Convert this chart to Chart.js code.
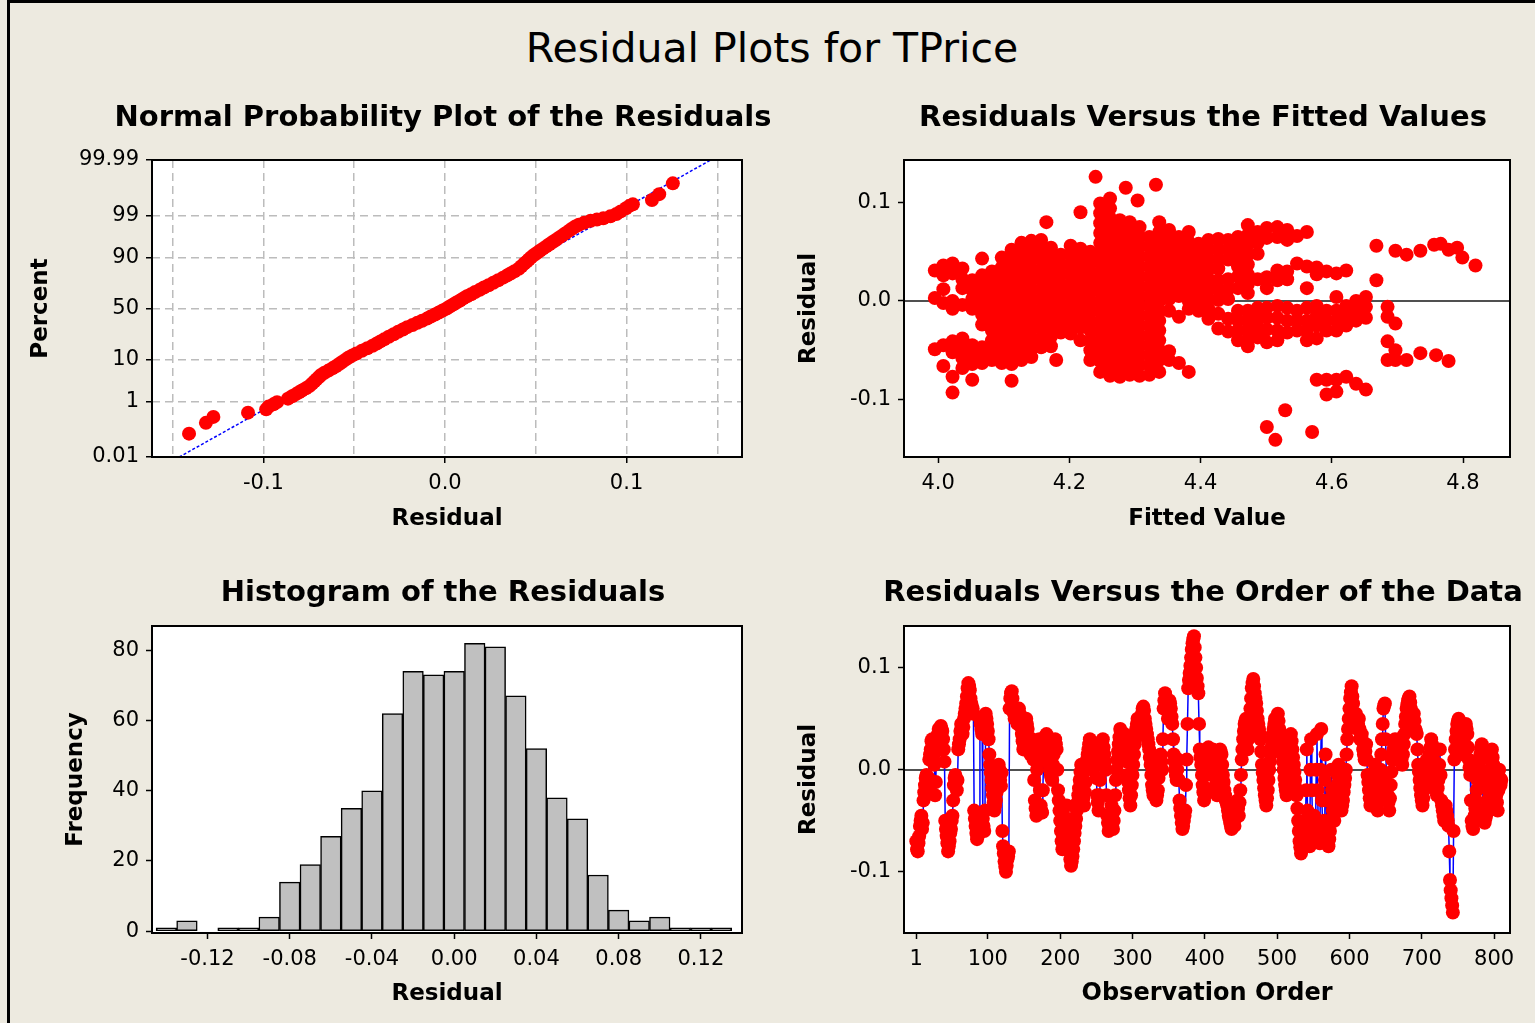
<!DOCTYPE html>
<html>
<head>
<meta charset="utf-8">
<title>Residual Plots for TPrice</title>
<script src="https://cdn.jsdelivr.net/npm/chart.js@4.4.1/dist/chart.umd.min.js"></script>
<style>
    html, body { margin: 0; padding: 0; }
    body {
        width: 1535px; height: 1023px; position: relative; overflow: hidden;
        background: #edeae0; font-family: "DejaVu Sans", sans-serif;
    }
    #frame {
        position: absolute; left: 7px; top: 0; width: 1540px; height: 1040px;
        border-left: 3px solid #000; border-top: 3px solid #000;
    }
    h1 {
        position: absolute; left: 0; top: 28px; width: 1544px; margin: 0;
        text-align: center; font-weight: normal; font-size: 41px; line-height: 40px; color: #000;
    }
    canvas { position: absolute; }
</style>
</head>
<body>
<div id="frame"></div>
<h1>Residual Plots for TPrice</h1>
<canvas id="normalChart" width="770" height="460" style="left:0;top:80px"></canvas>
<canvas id="fittedChart" width="760" height="460" style="left:775px;top:80px"></canvas>
<canvas id="histChart" width="770" height="478" style="left:0;top:545px"></canvas>
<canvas id="orderChart" width="760" height="478" style="left:775px;top:545px"></canvas>

<script>
// ---- Normal probability plot: sorted residuals vs percent ----
const normalPercent = [
    0.086, 0.209, 0.332, 0.455, 0.578, 0.70, 0.82, 0.95, 1.2, 1.4,
    1.6, 1.8, 2.0, 2.3, 2.6, 3.0, 3.4, 3.8, 4.3, 4.8,
    5.4, 6.0, 6.7, 7.4, 8.2, 9.0, 10, 11, 12, 13,
    14.5, 16, 17.5, 19, 20.5, 22, 24, 26, 28, 30,
    32, 34, 36, 38, 40, 42, 44, 46, 48, 50,
    52, 54, 56, 58, 60, 62, 64, 66, 68, 70,
    72, 74, 76, 78, 79.5, 81, 82.5, 84, 85.5, 87,
    88, 89, 90, 91, 91.8, 92.6, 93.3, 94, 94.6, 95.2,
    95.7, 96.2, 96.6, 97, 97.4, 97.7, 98, 98.2, 98.4, 98.6,
    98.7, 98.8, 98.95, 99.1, 99.25, 99.4, 99.5, 99.545, 99.668, 99.791,
    99.914
];
const normalResidual = [
    -0.141, -0.1317, -0.1276, -0.1085, -0.0985, -0.0972, -0.0945, -0.0925, -0.0865, -0.0842,
    -0.0821, -0.0804, -0.0788, -0.0766, -0.0747, -0.0732, -0.0719, -0.0708, -0.0694, -0.0683,
    -0.0664, -0.0642, -0.0620, -0.0601, -0.0583, -0.0567, -0.0548, -0.0531, -0.0510, -0.0488,
    -0.0458, -0.0428, -0.0399, -0.0376, -0.0356, -0.0335, -0.0310, -0.0283, -0.0258, -0.0232,
    -0.0208, -0.0179, -0.0152, -0.0126, -0.0099, -0.0078, -0.0055, -0.0034, -0.0013, 0.0009,
    0.0026, 0.0045, 0.0063, 0.0083, 0.0101, 0.0121, 0.0144, 0.0166, 0.0191, 0.0214,
    0.0240, 0.0266, 0.0293, 0.0320, 0.0341, 0.0361, 0.0383, 0.0406, 0.0421, 0.0437,
    0.0450, 0.0462, 0.0474, 0.0490, 0.0506, 0.0523, 0.0540, 0.0558, 0.0575, 0.0593,
    0.0610, 0.0628, 0.0645, 0.0662, 0.0682, 0.0699, 0.0718, 0.0737, 0.0766, 0.0802,
    0.0837, 0.0872, 0.0911, 0.0944, 0.0968, 0.0997, 0.1018, 0.1035, 0.1140, 0.1180,
    0.1255
];
const normalLineResidual = [-0.1464, 0.1464];
const normalLinePercent = [0.01, 99.99];
const probTicks = [0.01, 1, 10, 50, 90, 99, 99.99];
const probLabels = ['0.01', '1', '10', '50', '90', '99', '99.99'];
const normalGridX = [-0.15, -0.1, -0.05, 0, 0.05, 0.1, 0.15];
const normalLabelX = [-0.1, 0, 0.1];

// ---- Residuals vs fitted values: [fitted value, residuals at that fitted value] ----
const fittedColumns = [
    [3.995, [0.031, 0.003, -0.049]],
    [4.008, [0.036, 0.026, 0.012, -0.002, -0.045, -0.066]],
    [4.022, [0.038, 0.028, 0.000, -0.008, -0.041, -0.052, -0.077, -0.093]],
    [4.037, [0.033, 0.022, 0.013, -0.004, -0.038, -0.048, -0.058, -0.068]],
    [4.052, [0.021, 0.011, 0.002, -0.008, -0.045, -0.055, -0.064, -0.080]],
    [4.067, [0.043, 0.026, 0.016, 0.006, -0.004, -0.014, -0.024, -0.047, -0.057, -0.063]],
    [4.082, [0.030, 0.020, 0.010, 0.000, -0.010, -0.020, -0.030, -0.040, -0.050, -0.060]],
    [4.097, [0.044, 0.034, 0.024, 0.014, 0.004, -0.006, -0.016, -0.026, -0.036, -0.046, -0.056, -0.063]],
    [4.112, [0.052, 0.042, 0.032, 0.022, 0.012, 0.002, -0.008, -0.018, -0.028, -0.038, -0.048, -0.058, -0.064, -0.081]],
    [4.127, [0.059, 0.049, 0.039, 0.029, 0.019, 0.009, -0.001, -0.011, -0.021, -0.031, -0.041, -0.051, -0.060]],
    [4.142, [0.061, 0.051, 0.041, 0.031, 0.021, 0.011, 0.001, -0.009, -0.019, -0.029, -0.039, -0.049, -0.057]],
    [4.157, [0.062, 0.052, 0.042, 0.032, 0.022, 0.012, 0.002, -0.008, -0.018, -0.028, -0.038, -0.047]],
    [4.165, [0.080]],
    [4.172, [0.054, 0.044, 0.034, 0.024, 0.014, 0.004, -0.006, -0.016, -0.026, -0.036, -0.046]],
    [4.180, [-0.060]],
    [4.187, [0.047, 0.037, 0.027, 0.017, 0.007, -0.003, -0.013, -0.023, -0.032]],
    [4.202, [0.056, 0.046, 0.036, 0.026, 0.016, 0.006, -0.004, -0.014, -0.024, -0.033]],
    [4.217, [0.090, 0.053, 0.043, 0.033, 0.023, 0.013, 0.003, -0.007, -0.017, -0.027, -0.040]],
    [4.232, [0.050, 0.040, 0.030, 0.020, 0.010, 0.000, -0.010, -0.020, -0.030, -0.040, -0.050, -0.060]],
    [4.240, [0.126]],
    [4.247, [0.099, 0.089, 0.079, 0.069, 0.059, 0.049, 0.039, 0.029, 0.019, 0.009, -0.001, -0.011, -0.021, -0.031, -0.041, -0.051, -0.061, -0.072]],
    [4.262, [0.104, 0.094, 0.084, 0.074, 0.064, 0.054, 0.044, 0.034, 0.024, 0.014, 0.004, -0.006, -0.016, -0.026, -0.036, -0.046, -0.056, -0.066, -0.076]],
    [4.277, [0.082, 0.072, 0.062, 0.052, 0.042, 0.032, 0.022, 0.012, 0.002, -0.008, -0.018, -0.028, -0.038, -0.048, -0.058, -0.068, -0.077]],
    [4.286, [0.115]],
    [4.292, [0.080, 0.070, 0.060, 0.050, 0.040, 0.030, 0.020, 0.010, 0.000, -0.010, -0.020, -0.030, -0.040, -0.050, -0.060, -0.070, -0.075]],
    [4.304, [0.102]],
    [4.307, [0.075, 0.065, 0.055, 0.045, 0.035, 0.025, 0.015, 0.005, -0.005, -0.015, -0.025, -0.035, -0.045, -0.055, -0.065, -0.076]],
    [4.322, [0.065, 0.055, 0.045, 0.035, 0.025, 0.015, 0.005, -0.005, -0.015, -0.025, -0.035, -0.045, -0.055, -0.065, -0.075]],
    [4.332, [0.118]],
    [4.337, [0.080, 0.070, 0.060, 0.050, 0.040, 0.030, 0.020, 0.010, 0.000, -0.010, -0.020, -0.030, -0.040, -0.050, -0.060, -0.072]],
    [4.352, [0.072, 0.062, 0.052, 0.042, 0.032, 0.022, 0.012, 0.002, -0.010, -0.051, -0.060]],
    [4.367, [0.065, 0.055, 0.045, 0.035, 0.025, 0.015, 0.005, -0.016, -0.063]],
    [4.382, [0.070, 0.060, 0.050, 0.040, 0.030, 0.020, 0.010, 0.000, -0.008, -0.072]],
    [4.397, [0.058, 0.048, 0.038, 0.028, 0.018, 0.008, -0.002, -0.010]],
    [4.412, [0.062, 0.052, 0.042, 0.032, 0.022, 0.012, 0.002, -0.008, -0.018]],
    [4.427, [0.063, 0.053, 0.043, 0.033, 0.021, 0.011, 0.001, -0.013, -0.028]],
    [4.442, [0.062, 0.052, 0.042, 0.022, 0.012, 0.002, -0.018, -0.031]],
    [4.457, [0.065, 0.055, 0.045, 0.035, 0.025, 0.013, -0.010, -0.020, -0.030, -0.040]],
    [4.472, [0.077, 0.067, 0.057, 0.047, 0.037, 0.027, 0.017, 0.008, -0.010, -0.020, -0.030, -0.040, -0.046]],
    [4.487, [0.070, 0.059, 0.048, 0.022, -0.007, -0.017, -0.027, -0.037]],
    [4.501, [0.074, 0.064, 0.024, 0.013, -0.007, -0.017, -0.029, -0.042, -0.128]],
    [4.514, [-0.141]],
    [4.517, [0.075, 0.065, 0.031, 0.021, -0.005, -0.017, -0.030, -0.040]],
    [4.529, [-0.111]],
    [4.532, [0.072, 0.062, 0.030, 0.022, -0.007, -0.020, -0.032]],
    [4.547, [0.066, 0.038, -0.010, -0.020, -0.030]],
    [4.562, [0.070, 0.035, 0.013, -0.007, -0.020, -0.030, -0.040]],
    [4.570, [-0.133]],
    [4.577, [0.034, 0.027, -0.005, -0.015, -0.025, -0.038, -0.080]],
    [4.592, [0.030, -0.010, -0.020, -0.030, -0.080, -0.095]],
    [4.607, [0.028, 0.004, -0.010, -0.020, -0.030, -0.080, -0.092]],
    [4.622, [0.031, -0.005, -0.015, -0.025, -0.077]],
    [4.637, [0.000, -0.010, -0.020, -0.084]],
    [4.652, [0.004, -0.006, -0.017, -0.090]],
    [4.668, [0.056, 0.021]],
    [4.685, [-0.006, -0.016, -0.041, -0.060]],
    [4.697, [0.051, -0.023, -0.050, -0.060]],
    [4.714, [0.047, -0.060]],
    [4.735, [0.051, -0.053]],
    [4.756, [0.057]],
    [4.759, [-0.055]],
    [4.766, [0.058]],
    [4.778, [0.052, -0.061]],
    [4.791, [0.054]],
    [4.799, [0.044]],
    [4.819, [0.036]]
];
const fittedTicksX = [4.0, 4.2, 4.4, 4.6, 4.8];
const residualTicks = [-0.1, 0, 0.1];

// ---- Histogram of residuals ----
const histBins = [
    -0.14, -0.13, -0.12, -0.11, -0.10, -0.09, -0.08, -0.07, -0.06, -0.05,
    -0.04, -0.03, -0.02, -0.01, 0.00, 0.01, 0.02, 0.03, 0.04, 0.05,
    0.06, 0.07, 0.08, 0.09, 0.10, 0.11, 0.12, 0.13
];
const histCounts = [
    1, 3, 0, 1, 1, 4, 14, 19, 27, 35,
    40, 62, 74, 73, 74, 82, 81, 67, 52, 38,
    32, 16, 6, 3, 4, 1, 1, 1
];
const histTicksX = [-0.12, -0.08, -0.04, 0, 0.04, 0.08, 0.12];
const histTicksY = [0, 20, 40, 60, 80];

// ---- Residuals in observation order (observation 1, 2, 3, ...) ----
const orderResidual = [
    -0.070, -0.078, -0.080, -0.072, -0.065, -0.055, -0.050, -0.045, -0.058, -0.052,
    -0.030, -0.022, -0.015, -0.008, -0.005, -0.018, -0.020, -0.008, 0.010, 0.015,
    0.020, 0.028, 0.030, 0.022, 0.015, 0.005, -0.025, -0.012, 0.025, 0.030,
    0.035, 0.040, 0.028, 0.020, 0.043, 0.040, 0.038, 0.030, 0.020, 0.008,
    -0.050, -0.058, -0.065, -0.072, -0.080, -0.075, -0.070, -0.062, -0.058, -0.050,
    -0.045, -0.030, -0.015, -0.008, -0.005, -0.012, -0.020, -0.010, 0.020, 0.025,
    0.030, 0.038, 0.045, 0.040, 0.035, 0.042, 0.050, 0.055, 0.060, 0.065,
    0.072, 0.080, 0.085, 0.082, 0.078, 0.070, 0.065, 0.062, 0.060, 0.055,
    -0.040, -0.048, -0.055, -0.062, -0.068, -0.065, -0.060, -0.050, 0.050, 0.045,
    0.040, 0.035, -0.048, -0.055, -0.060, -0.040, 0.055, 0.050, 0.045, 0.038,
    0.030, 0.015, 0.005, -0.003, -0.010, -0.018, -0.025, -0.032, -0.040, -0.035,
    -0.030, -0.022, -0.015, -0.005, 0.005, 0.000, -0.010, -0.016, -0.003, -0.060,
    -0.075, -0.082, -0.090, -0.095, -0.100, -0.094, -0.088, -0.085, -0.080, 0.060,
    0.070, 0.075, 0.077, 0.070, 0.062, 0.055, 0.050, 0.052, 0.058, 0.050,
    0.045, 0.052, 0.060, 0.055, 0.050, 0.042, 0.035, 0.028, 0.020, 0.024,
    0.028, 0.040, 0.050, 0.045, 0.040, 0.032, 0.025, 0.020, 0.015, 0.022,
    0.030, 0.020, 0.010, -0.010, -0.030, -0.038, -0.045, 0.000, 0.020, 0.025,
    0.030, -0.020, -0.035, -0.040, -0.042, -0.020, 0.010, 0.015, 0.020, 0.028,
    0.035, 0.030, 0.025, 0.015, 0.005, 0.000, -0.005, -0.008, -0.010, 0.005,
    0.015, 0.022, 0.030, 0.025, 0.020, 0.000, -0.020, -0.030, -0.040, -0.050,
    -0.060, -0.070, -0.078, -0.065, -0.050, -0.058, -0.065, -0.050, -0.035, -0.048,
    -0.060, -0.070, -0.080, -0.088, -0.094, -0.090, -0.085, -0.078, -0.070, -0.062,
    -0.055, -0.048, -0.040, -0.032, -0.025, -0.018, -0.010, -0.002, 0.005, -0.008,
    -0.020, -0.028, -0.035, -0.022, -0.012, 0.000, 0.010, 0.015, 0.020, 0.025,
    0.030, 0.022, 0.015, 0.008, 0.000, 0.012, 0.025, 0.018, 0.010, -0.008,
    -0.025, -0.032, -0.040, -0.025, -0.010, 0.005, 0.020, 0.025, 0.030, 0.022,
    0.015, 0.008, 0.000, -0.025, -0.045, -0.052, -0.060, -0.055, -0.050, -0.042,
    -0.035, -0.048, -0.058, -0.050, -0.040, -0.025, -0.010, 0.000, 0.010, 0.018,
    0.025, 0.032, 0.040, 0.035, 0.030, 0.020, 0.010, 0.022, 0.035, 0.028,
    0.020, 0.008, -0.005, -0.012, -0.020, -0.028, -0.035, -0.025, -0.015, -0.005,
    0.005, 0.015, 0.025, 0.032, 0.040, 0.045, 0.050, 0.042, 0.035, 0.040,
    0.045, 0.050, 0.055, 0.060, 0.062, 0.058, 0.050, 0.045, 0.040, 0.035,
    0.030, 0.025, 0.020, 0.012, 0.005, -0.005, -0.015, -0.020, -0.025, -0.018,
    -0.010, -0.020, -0.030, -0.025, -0.020, -0.008, 0.005, 0.010, 0.015, 0.008,
    0.000, 0.030, 0.060, 0.068, 0.075, 0.070, 0.065, 0.058, 0.050, 0.060,
    0.068, 0.065, 0.060, 0.052, 0.045, 0.030, 0.015, 0.008, 0.000, -0.005,
    -0.010, 0.000, 0.010, -0.010, -0.030, -0.038, -0.045, -0.052, -0.058, -0.055,
    -0.050, -0.045, -0.040, -0.015, 0.010, 0.045, 0.080, 0.088, 0.095, 0.102,
    0.110, 0.118, 0.124, 0.128, 0.131, 0.120, 0.110, 0.100, 0.090, 0.082,
    0.075, 0.045, 0.020, 0.012, 0.005, -0.005, -0.015, -0.022, -0.030, -0.025,
    -0.020, -0.005, 0.010, 0.018, 0.022, 0.020, 0.015, 0.005, -0.005, 0.008,
    0.020, 0.012, 0.005, -0.005, -0.015, -0.020, -0.025, -0.008, 0.010, 0.015,
    0.020, 0.018, 0.015, 0.005, -0.005, -0.012, -0.020, -0.025, -0.030, -0.032,
    -0.035, -0.040, -0.045, -0.048, -0.052, -0.055, -0.058, -0.052, -0.048, -0.050,
    -0.055, -0.048, -0.040, -0.035, -0.030, -0.038, -0.045, -0.032, -0.020, -0.005,
    0.010, 0.020, 0.030, 0.038, 0.045, 0.048, 0.050, 0.035, 0.020, 0.030,
    0.040, 0.050, 0.060, 0.070, 0.080, 0.085, 0.089, 0.082, 0.075, 0.070,
    0.065, 0.058, 0.050, 0.045, 0.040, 0.035, 0.030, 0.018, 0.005, -0.003,
    -0.010, -0.018, -0.025, -0.030, -0.035, -0.028, -0.020, -0.010, 0.000, 0.008,
    0.015, 0.022, 0.030, 0.035, 0.040, 0.045, 0.050, 0.048, 0.045, 0.050,
    0.055, 0.048, 0.040, 0.032, 0.025, 0.020, 0.015, 0.008, 0.000, -0.008,
    -0.015, -0.020, -0.025, -0.008, 0.010, 0.018, 0.025, 0.030, 0.035, 0.028,
    0.020, 0.012, 0.005, -0.002, -0.010, -0.018, -0.025, -0.038, -0.050, -0.060,
    -0.070, -0.076, -0.082, -0.072, -0.065, -0.058, -0.050, -0.055, -0.060, -0.020,
    0.020, -0.040, -0.068, -0.072, -0.075, 0.000, 0.030, -0.020, -0.055, -0.050,
    -0.045, -0.058, -0.070, 0.000, 0.035, -0.020, -0.060, -0.065, -0.072, 0.000,
    0.040, -0.030, -0.065, -0.058, -0.050, -0.010, 0.015, -0.030, -0.070, -0.072,
    -0.075, -0.068, -0.060, -0.030, 0.000, -0.020, -0.040, -0.045, -0.050, -0.040,
    -0.030, -0.022, -0.015, -0.005, 0.005, -0.010, -0.025, -0.032, -0.040, -0.035,
    -0.030, -0.022, -0.015, -0.008, 0.000, 0.015, 0.030, 0.040, 0.050, 0.060,
    0.070, 0.076, 0.082, 0.072, 0.065, 0.055, 0.045, 0.050, 0.055, 0.048,
    0.040, 0.045, 0.050, 0.040, 0.030, 0.032, 0.035, 0.028, 0.020, 0.015,
    0.010, 0.018, 0.025, 0.010, -0.005, -0.012, -0.020, -0.028, -0.035, -0.030,
    -0.025, -0.018, -0.010, -0.002, 0.005, -0.012, -0.030, -0.035, -0.040, -0.030,
    -0.020, -0.010, 0.000, 0.015, 0.030, 0.045, 0.060, 0.063, 0.065, 0.030,
    -0.005, -0.015, -0.025, -0.032, -0.040, -0.028, -0.015, -0.002, 0.010, 0.015,
    0.020, 0.025, 0.030, 0.020, 0.010, 0.015, 0.020, 0.025, 0.030, 0.022,
    0.015, 0.010, 0.005, 0.015, 0.025, 0.035, 0.045, 0.052, 0.060, 0.064,
    0.068, 0.070, 0.072, 0.066, 0.060, 0.055, 0.050, 0.052, 0.055, 0.048,
    0.040, 0.038, 0.035, 0.020, 0.005, -0.002, -0.010, -0.018, -0.025, -0.030,
    -0.035, -0.028, -0.020, -0.010, 0.000, 0.005, 0.010, 0.000, -0.010, 0.002,
    0.015, 0.022, 0.030, 0.025, 0.020, 0.010, 0.000, -0.008, -0.015, -0.020,
    -0.025, -0.018, -0.010, 0.005, 0.020, -0.005, -0.030, -0.035, -0.040, -0.045,
    -0.050, -0.042, -0.035, -0.040, -0.045, -0.050, -0.055, -0.080, -0.108, -0.118,
    -0.126, -0.133, -0.140, -0.060, 0.010, 0.020, 0.030, 0.038, 0.045, 0.048,
    0.050, 0.045, 0.040, 0.035, 0.030, 0.022, 0.015, 0.028, 0.040, 0.042,
    0.045, 0.040, 0.035, 0.022, 0.010, 0.002, -0.005, -0.030, -0.050, -0.055,
    -0.058, -0.052, -0.045, -0.038, -0.030, -0.020, -0.010, -0.005, 0.000, 0.008,
    0.015, 0.020, 0.025, -0.010, -0.040, -0.046, -0.052, -0.048, -0.045, -0.038,
    -0.030, -0.020, -0.010, 0.000, 0.010, 0.015, 0.020, 0.012, 0.005, -0.002,
    -0.010, -0.018, -0.025, -0.032, -0.040, -0.020, 0.000, -0.008, -0.015, -0.010
];
const orderTicksX = [1, 100, 200, 300, 400, 500, 600, 700, 800];

// Inverse normal CDF, used for the probability (percent) axis
function probit(p) {
    const a = [-39.69683028665376, 220.9460984245205, -275.9285104469687, 138.357751867269, -30.66479806614716, 2.506628277459239];
    const b = [-54.47609879822406, 161.5858368580409, -155.6989798598866, 66.80131188771972, -13.28068155288572];
    const c = [-0.007784894002430293, -0.3223964580411365, -2.400758277161838, -2.549732539343734, 4.374664141464968, 2.938163982698783];
    const d = [0.007784695709041462, 0.3224671290700398, 2.445134137142996, 3.754408661907416];
    const plow = 0.02425;
    if (p < plow) {
        const q = Math.sqrt(-2 * Math.log(p));
        return (((((c[0] * q + c[1]) * q + c[2]) * q + c[3]) * q + c[4]) * q + c[5]) / ((((d[0] * q + d[1]) * q + d[2]) * q + d[3]) * q + 1);
    }
    if (p <= 1 - plow) {
        const q = p - 0.5, r = q * q;
        return (((((a[0] * r + a[1]) * r + a[2]) * r + a[3]) * r + a[4]) * r + a[5]) * q / (((((b[0] * r + b[1]) * r + b[2]) * r + b[3]) * r + b[4]) * r + 1);
    }
    const q = Math.sqrt(-2 * Math.log(1 - p));
    return -(((((c[0] * q + c[1]) * q + c[2]) * q + c[3]) * q + c[4]) * q + c[5]) / ((((d[0] * q + d[1]) * q + d[2]) * q + d[3]) * q + 1);
}

Chart.defaults.font.family = '"DejaVu Sans", sans-serif';
Chart.defaults.color = '#000';
Chart.defaults.animation = false;

// White plot area, optional zero line, black box and the panel title
const plotFrame = {
    id: 'plotFrame',
    beforeDraw(chart) {
        const { ctx, chartArea: a } = chart;
        ctx.save();
        ctx.fillStyle = '#fff';
        ctx.fillRect(a.left, a.top, a.width, a.height);
        ctx.restore();
    },
    beforeDatasetsDraw(chart, args, opts) {
        if (!opts.zeroLine) return;
        const { ctx, chartArea: a } = chart;
        const y = Math.round(chart.scales.y.getPixelForValue(0));
        ctx.save();
        ctx.strokeStyle = '#505050';
        ctx.lineWidth = 2;
        ctx.beginPath();
        ctx.moveTo(a.left, y);
        ctx.lineTo(a.right, y);
        ctx.stroke();
        ctx.restore();
    },
    afterDatasetsDraw(chart) {
        const { ctx, chartArea: a } = chart;
        ctx.save();
        ctx.strokeStyle = '#000';
        ctx.lineWidth = 2;
        ctx.strokeRect(a.left, a.top, a.width, a.height);
        ctx.restore();
    },
    afterDraw(chart, args, opts) {
        if (!opts.title) return;
        const { ctx, chartArea: a } = chart;
        ctx.save();
        ctx.font = 'bold 29px "DejaVu Sans"';
        ctx.fillStyle = '#000';
        ctx.textAlign = 'center';
        ctx.textBaseline = 'middle';
        ctx.fillText(opts.title, (a.left + a.right) / 2 - 4, opts.titleY);
        ctx.restore();
    }
};
Chart.register(plotFrame);

const tickFont = { size: 21 };
const axisTitleFont = { size: 23, weight: 'bold' };
const fixedTicks = values => scale => { scale.ticks = values.map(v => ({ value: v })); };

function xAxis(opts) {
    return {
        type: 'linear',
        min: opts.min,
        max: opts.max,
        offset: false,
        afterBuildTicks: fixedTicks(opts.ticks),
        afterFit: scale => { scale.height = opts.height; },
        grid: Object.assign({ drawOnChartArea: false, tickLength: 6, tickWidth: 1.5, tickColor: '#000', offset: false }, opts.grid || {}),
        border: { display: false, dash: opts.dash || [] },
        ticks: { font: tickFont, color: '#000', padding: 8, maxRotation: 0, autoSkip: false, callback: opts.label },
        title: { display: true, text: opts.title, font: opts.titleFont || axisTitleFont, color: '#000', padding: { top: 0, bottom: opts.titlePad } }
    };
}

function yAxis(opts) {
    return {
        type: 'linear',
        min: opts.min,
        max: opts.max,
        afterBuildTicks: fixedTicks(opts.ticks),
        afterFit: scale => { scale.width = opts.width; },
        grid: Object.assign({ drawOnChartArea: false, tickLength: 6, tickWidth: 1.5, tickColor: '#000' }, opts.grid || {}),
        border: { display: false, dash: opts.dash || [] },
        ticks: { font: tickFont, color: '#000', padding: 7, autoSkip: false, callback: opts.label },
        title: { display: true, text: opts.title, font: axisTitleFont, color: '#000', padding: { top: opts.titlePad, bottom: 0 } }
    };
}

const baseOptions = { responsive: false, events: [], plugins: { legend: { display: false }, tooltip: { enabled: false } } };

// ---- Normal probability plot ----
new Chart(document.getElementById('normalChart'), {
    type: 'scatter',
    data: {
        datasets: [{
            data: normalResidual.map((r, i) => ({ x: r, y: probit(normalPercent[i] / 100) })),
            pointRadius: 7,
            pointBorderWidth: 0,
            pointBackgroundColor: '#ff0000',
            order: 0
        }, {
            data: normalLineResidual.map((r, i) => ({ x: r, y: probit(normalLinePercent[i] / 100) })),
            showLine: true,
            pointRadius: 0,
            borderColor: '#0000ff',
            borderWidth: 1.5,
            borderDash: [3, 2],
            order: 1
        }]
    },
    options: Object.assign({}, baseOptions, {
        layout: { padding: { top: 80, left: 0, right: 28, bottom: 0 } },
        plugins: Object.assign({}, baseOptions.plugins, { plotFrame: { title: 'Normal Probability Plot of the Residuals', titleY: 38 } }),
        scales: {
            x: xAxis({
                min: -0.1614, max: 0.1636, ticks: normalGridX, height: 83, title: 'Residual', titlePad: 7, dash: [8, 5],
                grid: {
                    drawOnChartArea: true, color: '#bcbcbc', lineWidth: 1.5,
                    tickColor: c => normalLabelX.includes(c.tick && c.tick.value) ? '#000' : 'rgba(0,0,0,0)'
                },
                label: v => normalLabelX.includes(v) ? v.toFixed(1) : ''
            }),
            y: yAxis({
                min: probit(0.0001), max: probit(0.9999),
                ticks: probTicks.map(p => probit(p / 100)), width: 152, title: 'Percent', titlePad: 27, dash: [8, 5],
                grid: {
                    drawOnChartArea: true, lineWidth: 1.5,
                    color: c => (c.index === 0 || c.index === probTicks.length - 1) ? 'rgba(0,0,0,0)' : '#bcbcbc'
                },
                label: (v, i) => probLabels[i]
            })
        }
    })
});

// ---- Residuals versus fitted values ----
new Chart(document.getElementById('fittedChart'), {
    type: 'scatter',
    data: {
        datasets: [{
            data: fittedColumns.flatMap(([fv, rs]) => rs.map(r => ({ x: fv, y: r }))),
            pointRadius: 7,
            pointBorderWidth: 0,
            pointBackgroundColor: '#ff0000'
        }]
    },
    options: Object.assign({}, baseOptions, {
        layout: { padding: { top: 80, left: 0, right: 25, bottom: 0 } },
        plugins: Object.assign({}, baseOptions.plugins, { plotFrame: { title: 'Residuals Versus the Fitted Values', titleY: 38, zeroLine: true } }),
        scales: {
            x: xAxis({ min: 3.948, max: 4.8716, ticks: fittedTicksX, height: 83, title: 'Fitted Value', titlePad: 7, label: v => v.toFixed(1) }),
            y: yAxis({ min: -0.1584, max: 0.1431, ticks: residualTicks, width: 129, title: 'Residual', titlePad: 20, label: v => v.toFixed(1) })
        }
    })
});

// ---- Histogram of the residuals ----
new Chart(document.getElementById('histChart'), {
    type: 'bar',
    data: {
        datasets: [{
            data: histBins.map((b, i) => ({ x: b, y: histCounts[i] })),
            backgroundColor: '#c0c0c0',
            borderColor: '#000',
            borderWidth: 1.5,
            borderSkipped: false,
            barPercentage: 1,
            categoryPercentage: 1
        }]
    },
    options: Object.assign({}, baseOptions, {
        layout: { padding: { top: 81, left: 0, right: 28, bottom: 0 } },
        plugins: Object.assign({}, baseOptions.plugins, { plotFrame: { title: 'Histogram of the Residuals', titleY: 48 } }),
        scales: {
            x: xAxis({ min: -0.147, max: 0.140, ticks: histTicksX, height: 90, title: 'Residual', titlePad: 15, label: v => v.toFixed(2) }),
            y: yAxis({ min: -0.5, max: 86.9, ticks: histTicksY, width: 152, title: 'Frequency', titlePad: 62, label: v => String(v) })
        }
    })
});

// ---- Residuals versus the order of the data ----
new Chart(document.getElementById('orderChart'), {
    type: 'scatter',
    data: {
        datasets: [{
            data: orderResidual.map((r, i) => ({ x: i + 1, y: r })),
            showLine: true,
            borderColor: '#0000ff',
            borderWidth: 1.5,
            pointRadius: 7,
            pointBorderWidth: 0,
            pointBackgroundColor: '#ff0000'
        }]
    },
    options: Object.assign({}, baseOptions, {
        layout: { padding: { top: 81, left: 0, right: 25, bottom: 0 } },
        plugins: Object.assign({}, baseOptions.plugins, { plotFrame: { title: 'Residuals Versus the Order of the Data', titleY: 48, zeroLine: true } }),
        scales: {
            x: xAxis({ min: -16, max: 822, ticks: orderTicksX, height: 90, title: 'Observation Order', titlePad: 15,
                       titleFont: { size: 24, weight: 'bold' }, label: v => String(v) }),
            y: yAxis({ min: -0.160, max: 0.141, ticks: residualTicks, width: 129, title: 'Residual', titlePad: 20, label: v => v.toFixed(1) })
        }
    })
});
</script>
</body>
</html>
